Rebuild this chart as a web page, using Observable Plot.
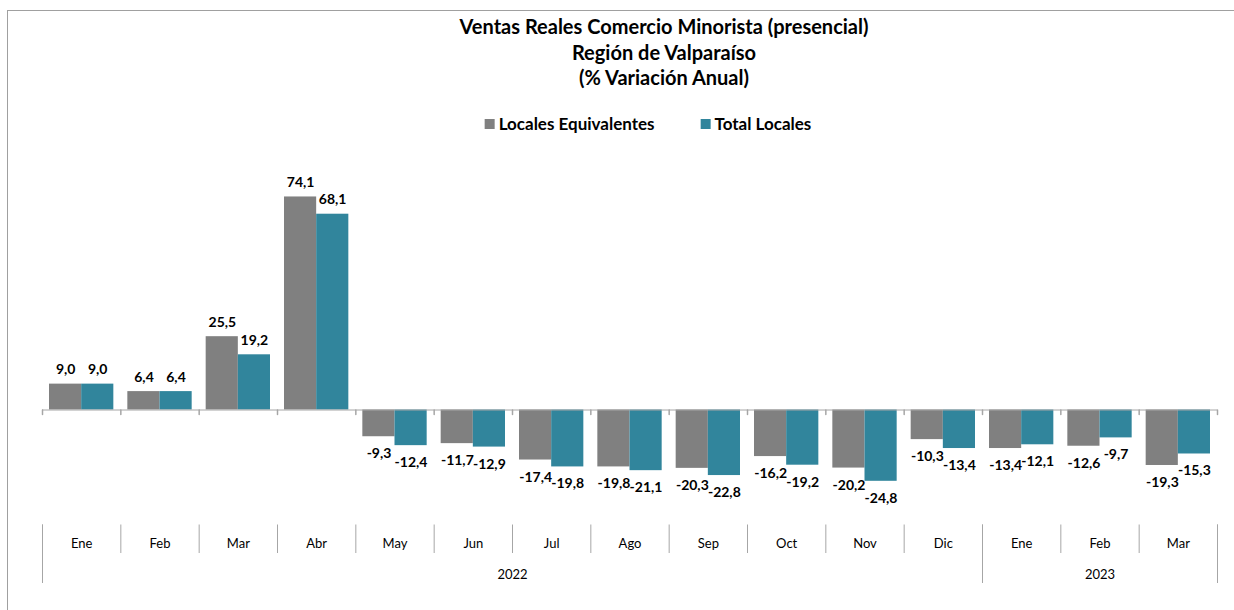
<!DOCTYPE html>
<html>
<head>
<meta charset="utf-8">
<script src="https://cdn.jsdelivr.net/npm/d3@7"></script>
<script src="https://cdn.jsdelivr.net/npm/@observablehq/plot@0.6"></script>
<style>
  html, body { margin: 0; padding: 0; background: #fff; overflow: hidden; }
  body { width: 1234px; height: 610px; position: relative; font-family: Lato, "Open Sans", sans-serif; color: #000; }
  #frame { position: absolute; left: 7px; top: 10px; width: 1300px; height: 700px; border-left: 1px solid #a0a0a0; border-top: 1px solid #a0a0a0; }
  #title { position: absolute; left: 664px; top: 14px; transform: translateX(-50%); text-align: center; font-weight: bold; font-size: 20px; line-height: 25.5px; white-space: nowrap; }
  #legend { position: absolute; left: 648px; top: 113px; transform: translateX(-50%); font-weight: bold; font-size: 17px; line-height: 22px; white-space: nowrap; display: flex; align-items: center; }
  .item { display: inline-flex; align-items: center; }
  .item + .item { margin-left: 46px; }
  .sw { width: 10px; height: 10px; margin-right: 4px; display: inline-block; }
  #chart { position: absolute; left: 0; top: 140px; }
</style>
</head>
<body>
<div id="frame"></div>
<div id="title"></div>
<div id="legend"></div>
<div id="chart"></div>
<script>
// ---- data ----
const titleLines = ["Ventas Reales Comercio Minorista (presencial)", "Región de Valparaíso", "(% Variación Anual)"];
const months = ["Ene","Feb","Mar","Abr","May","Jun","Jul","Ago","Sep","Oct","Nov","Dic","Ene","Feb","Mar"];
const years = ["2022", "2023"];
const yearMonthCounts = [12, 3];
const seriesNames = ["Locales Equivalentes", "Total Locales"];
const seriesColors = ["#808080", "#31859c"];
const localesEquivalentes = [9.0, 6.4, 25.5, 74.1, -9.3, -11.7, -17.4, -19.8, -20.3, -16.2, -20.2, -10.3, -13.4, -12.6, -19.3];
const totalLocales = [9.0, 6.4, 19.2, 68.1, -12.4, -12.9, -19.8, -21.1, -22.8, -19.2, -24.8, -13.4, -12.1, -9.7, -15.3];

// ---- derived tables ----
const seriesValues = [localesEquivalentes, totalLocales];
const rows = seriesValues.flatMap((vals, s) => vals.map((v, i) => ({i, month: months[i], series: seriesNames[s], value: v})));
const boundaries = d3.range(months.length + 1);
let acc = 0;
const yearRows = years.map((y, k) => { const start = acc; acc += yearMonthCounts[k]; return {year: y, start, count: yearMonthCounts[k]}; });
const yearBounds = [0, ...yearRows.map(d => d.start + d.count)];

const locale = d3.formatLocale({decimal: ",", thousands: ".", grouping: [3], currency: ["$", ""], minus: "-"});
const fmt = locale.format(".1f");

// ---- title & legend ----
document.getElementById("title").innerHTML = titleLines.map(t => `<div>${t}</div>`).join("");
document.getElementById("legend").innerHTML = seriesNames.map((n, k) =>
  `<span class="item"><span class="sw" style="background:${seriesColors[k]}"></span>${n}</span>`).join("");

// ---- chart ----
const tickShape = {draw(context, l) { context.moveTo(0, 0); context.lineTo(0, -l); }};
const axisGray = "#a6a6a6";
const barInsetOuter = 7;
const barInsetInner = 39.17;
const marks = [
  Plot.rectY(rows.filter(d => d.series === seriesNames[0]), {x1: "i", x2: d => d.i + 1, y: "value", fill: "series", insetLeft: barInsetOuter, insetRight: barInsetInner}),
  Plot.rectY(rows.filter(d => d.series === seriesNames[1]), {x1: "i", x2: d => d.i + 1, y: "value", fill: "series", insetLeft: barInsetInner, insetRight: barInsetOuter}),
  Plot.ruleY([0], {stroke: axisGray}),
  Plot.vector(boundaries, {x: d => d, y: () => 0, length: 4.5, rotate: 180, anchor: "start", shape: tickShape, stroke: axisGray}),
];
seriesNames.forEach((name, s) => {
  const dx = s === 0 ? -16 : 16;
  const sub = rows.filter(d => d.series === name);
  marks.push(Plot.text(sub.filter(d => d.value >= 0), {x: d => d.i + 0.5, y: "value", text: d => fmt(d.value), dx, dy: -14.5, fontWeight: "bold", fontSize: 14, fill: "#000"}));
  marks.push(Plot.text(sub.filter(d => d.value < 0), {x: d => d.i + 0.5, y: "value", text: d => fmt(d.value), dx, dy: 17, fontWeight: "bold", fontSize: 14, fill: "#000"}));
});
marks.push(
  Plot.axisX(boundaries, {tickSize: 28.5, stroke: axisGray, fill: "none", label: null}),
  Plot.axisX(yearBounds, {tickSize: 58.5, stroke: axisGray, fill: "none", label: null}),
  Plot.text(months, {x: (d, i) => i + 0.5, frameAnchor: "bottom", dy: 23, text: d => d, fontSize: 13, fill: "#000"}),
  Plot.text(yearRows, {x: d => d.start + d.count / 2, frameAnchor: "bottom", dy: 53.5, text: "year", fontSize: 13, fill: "#000"})
);

const chart = Plot.plot({
  width: 1234,
  height: 470,
  marginLeft: 42,
  marginRight: 17,
  marginTop: 39.5,
  marginBottom: 85.5,
  style: {fontFamily: "Lato, sans-serif", background: "transparent", overflow: "visible"},
  x: {domain: [0, months.length], axis: null},
  y: {domain: [-40, 80], axis: null},
  color: {domain: seriesNames, range: seriesColors},
  marks
});
document.getElementById("chart").appendChild(chart);
</script>
</body>
</html>
